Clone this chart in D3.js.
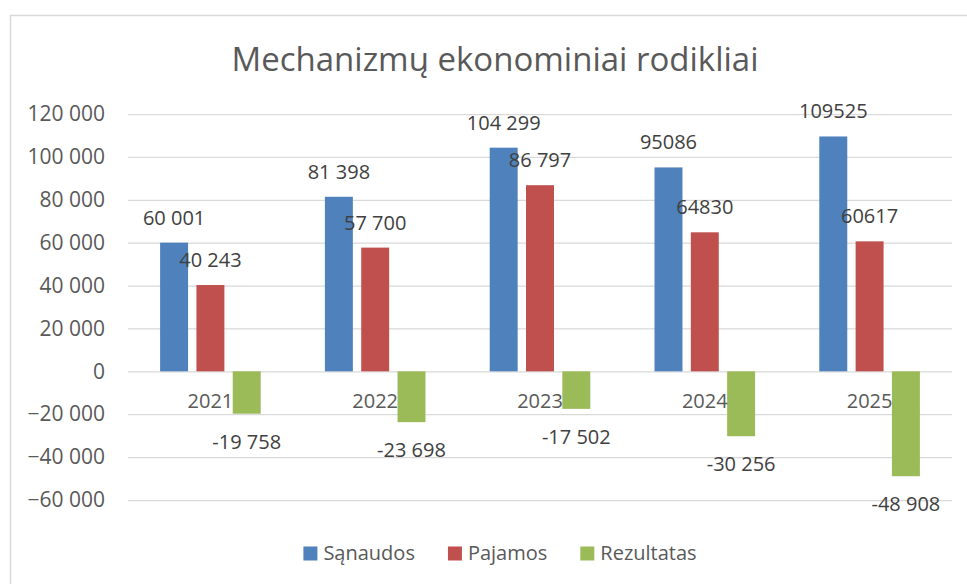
<!DOCTYPE html>
<html>
<head>
<meta charset="utf-8">
<script src="https://cdn.jsdelivr.net/npm/d3@7"></script>
<style>
  body { margin: 0; background: #fff; }
  text { font-family: "Open Sans", sans-serif; }
</style>
</head>
<body>
<div id="chart"></div>
<script>
// data
const years = ["2021", "2022", "2023", "2024", "2025"];
const seriesNames = ["Sąnaudos", "Pajamos", "Rezultatas"];
const sanaudos = [60001, 81398, 104299, 95086, 109525];
const pajamos = [40243, 57700, 86797, 64830, 60617];
const rezultatas = [-19758, -23698, -17502, -30256, -48908];
// labels as printed (formatting is not the same everywhere)
const sanaudosLabels = ["60 001", "81 398", "104 299", "95086", "109525"];
const pajamosLabels = ["40 243", "57 700", "86 797", "64830", "60617"];
const rezultatasLabels = ["-19 758", "-23 698", "-17 502", "-30 256", "-48 908"];
const yTicks = [-60000, -40000, -20000, 0, 20000, 40000, 60000, 80000, 100000, 120000];
const colors = ["#4f81bd", "#c0504d", "#9bbb59"];

const width = 967, height = 584;
const margin = {top: 114, right: 15, bottom: 84, left: 128};

const values = [sanaudos, pajamos, rezultatas];
const labels = [sanaudosLabels, pajamosLabels, rezultatasLabels];

const svg = d3.select("#chart").append("svg")
  .attr("width", width)
  .attr("height", height);

// chart frame (runs off the right and bottom edge)
svg.append("rect")
  .attr("x", 10.5).attr("y", 15.5)
  .attr("width", 1000).attr("height", 700)
  .attr("fill", "#fff")
  .attr("stroke", "#d9d9d9")
  .attr("stroke-width", 1.5);

svg.append("text")
  .attr("x", 495).attr("y", 71)
  .attr("text-anchor", "middle")
  .attr("fill", "#595959")
  .style("font-size", "33px")
  .text("Mechanizmų ekonominiai rodikliai");

const x0 = d3.scaleBand()
  .domain(years)
  .range([margin.left, width - margin.right]);

const x1 = d3.scaleBand()
  .domain(seriesNames)
  .range([-50.3, 50.3])
  .paddingInner(0.23);

const y = d3.scaleLinear()
  .domain([-60000, 120000])
  .range([height - margin.bottom, margin.top]);

// gridlines + y labels
const yAxis = g => g
  .attr("transform", `translate(${margin.left},0)`)
  .call(d3.axisLeft(y).tickValues(yTicks)
    .tickSize(-(width - margin.right - margin.left))
    .tickPadding(23)
    .tickFormat(d => d3.format(",")(d).replace(/,/g, " ")))
  .call(g => g.select(".domain").remove())
  .call(g => g.selectAll(".tick line").attr("stroke", "#d9d9d9").attr("stroke-width", 1.25))
  .call(g => g.selectAll(".tick text")
    .attr("fill", "#595959")
    .style("font-size", "21px")
    .style("font-family", "'Open Sans', sans-serif"));

svg.append("g").call(yAxis);

// bars
const groups = svg.append("g").selectAll("g")
  .data(seriesNames)
  .join("g")
  .attr("fill", (d, i) => colors[i]);

groups.selectAll("rect")
  .data((s, si) => values[si].map((v, j) => ({s, v, year: years[j], label: labels[si][j]})))
  .join("rect")
  .attr("x", d => x0(d.year) + x0.bandwidth() / 2 + x1(d.s))
  .attr("width", x1.bandwidth())
  .attr("y", d => y(Math.max(0, d.v)))
  .attr("height", d => Math.abs(y(d.v) - y(0)));

// category labels sit just under the zero line
svg.append("g").selectAll("text")
  .data(years)
  .join("text")
  .attr("x", d => x0(d) + x0.bandwidth() / 2)
  .attr("y", y(0) + 37)
  .attr("text-anchor", "middle")
  .attr("fill", "#595959")
  .style("font-size", "20px")
  .text(d => d);

// value labels
groups.selectAll("text")
  .data((s, si) => values[si].map((v, j) => ({s, v, year: years[j], label: labels[si][j]})))
  .join("text")
  .attr("x", d => x0(d.year) + x0.bandwidth() / 2 + x1(d.s) + x1.bandwidth() / 2)
  .attr("y", d => d.v >= 0 ? y(d.v) - 18 : y(d.v) + 35)
  .attr("text-anchor", "middle")
  .attr("fill", "#404040")
  .style("font-size", "20px")
  .text(d => d.label);

// legend, centred under the plot
const legend = svg.append("g");
const items = legend.selectAll("g")
  .data(seriesNames)
  .join("g");
items.append("rect")
  .attr("width", 14).attr("height", 14)
  .attr("y", 546.5)
  .attr("fill", (d, i) => colors[i]);
items.append("text")
  .attr("x", 20).attr("y", 560)
  .attr("fill", "#595959")
  .style("font-size", "20px")
  .text(d => d);

let lx = 0;
const offsets = [];
items.each(function() {
  offsets.push(lx);
  lx += this.getBBox().width + 33;
});
const total = lx - 33;
items.attr("transform", (d, i) => `translate(${500 - total / 2 + offsets[i]},0)`);
</script>
</body>
</html>
